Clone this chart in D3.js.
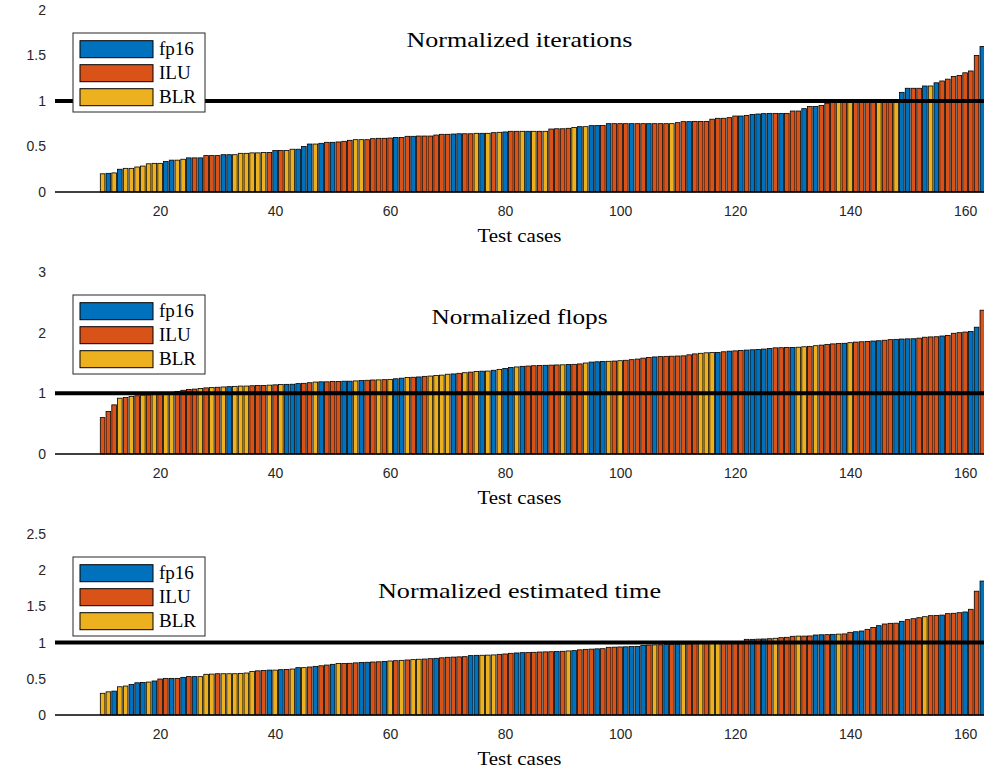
<!DOCTYPE html>
<html>
<head>
<meta charset="utf-8">
<script src="https://cdn.jsdelivr.net/npm/d3@7"></script>
<style>
body { margin: 0; background: #fff; }
svg { display: block; }
.tick text { font-family: "Liberation Sans", Arial, sans-serif; font-size: 14px; fill: #262626; }
.serif { font-family: "Liberation Serif", "DejaVu Serif", serif; fill: #000; }
</style>
</head>
<body>
<svg id="chart" width="984" height="773"></svg>
<script>
// test cases 10..163 (cases 1..9 have no value)
var firstCase = 10;
var xTicks = [20, 40, 60, 80, 100, 120, 140, 160];
var methods = ["fp16", "ILU", "BLR"];
var methodColors = ["#0072BD", "#D95319", "#EDB120"];

// normalized iterations
var iterValues = [0.20,0.205,0.21,0.25,0.26,0.26,0.275,0.285,0.31,0.315,0.315,0.335,0.35,0.35,0.36,0.375,0.375,0.375,0.40,0.40,0.40,0.41,0.41,0.41,0.425,0.425,0.43,0.43,0.435,0.435,0.455,0.455,0.455,0.47,0.47,0.50,0.527,0.527,
  0.535,0.546,0.546,0.55,0.557,0.568,0.575,0.575,0.575,0.586,0.59,0.59,0.593,0.60,0.60,0.612,0.612,0.615,0.615,0.615,0.626,0.634,0.634,0.637,0.64,0.64,0.64,0.645,0.645,0.645,0.652,0.656,0.66,0.667,0.667,0.667,0.667,0.667,0.667,
  0.667,0.692,0.695,0.695,0.70,0.71,0.718,0.718,0.729,0.73,0.73,0.751,0.751,0.751,0.751,0.751,0.751,0.751,0.751,0.751,0.751,0.751,0.751,0.762,0.773,0.773,0.776,0.776,0.776,0.80,0.81,0.81,0.817,0.835,0.835,0.842,0.853,0.857,0.861,
  0.864,0.864,0.864,0.864,0.89,0.89,0.916,0.94,0.94,0.952,0.975,1,1,1,1,1,1,1,1,1,1,1,1,1.095,1.14,1.14,1.14,1.165,1.165,1.20,1.22,1.24,1.27,1.28,1.31,1.33,1.50,1.60];
var iterMethod = ("YBYBYYYYYYYBBYYBRBRRRBBYYYYYYRBRYYBBBY" +
  "BRBRRRYYRRRRRBRRBRRRRRRBBRRYBYRYBRRYBYR" +
  "YRRRRYBYBBRBRRRBRRBRRRYRRBRRRRRRRRBRBBB" +
  "BRBRRRBRBRRRYRYRRRRYRRYBBRRBYBRRRRRRRB").split("");

// normalized flops
var flopValues = [0.60,0.70,0.81,0.92,0.93,0.95,0.96,0.97,0.975,0.98,0.99,1.0,1.01,1.03,1.05,1.065,1.07,1.08,1.09,1.095,1.10,1.105,1.11,1.115,1.12,1.12,1.125,1.13,1.13,1.135,1.14,1.145,1.148,1.15,1.16,1.165,1.175,1.186,
  1.19,1.19,1.195,1.195,1.2,1.2,1.205,1.21,1.215,1.22,1.222,1.225,1.23,1.24,1.25,1.26,1.265,1.27,1.28,1.285,1.295,1.30,1.315,1.32,1.33,1.34,1.35,1.36,1.365,1.367,1.38,1.395,1.41,1.425,1.435,1.445,1.45,1.455,1.46,
  1.462,1.465,1.468,1.47,1.475,1.478,1.485,1.50,1.515,1.52,1.525,1.528,1.532,1.538,1.545,1.555,1.565,1.58,1.59,1.60,1.605,1.61,1.612,1.615,1.618,1.635,1.65,1.66,1.668,1.672,1.675,1.685,1.695,1.70,1.708,1.713,1.718,1.724,1.73,
  1.74,1.75,1.752,1.755,1.757,1.76,1.768,1.774,1.785,1.795,1.807,1.815,1.82,1.825,1.835,1.845,1.85,1.856,1.862,1.867,1.875,1.885,1.89,1.895,1.898,1.90,1.91,1.925,1.93,1.933,1.945,1.955,1.99,2.0,2.01,2.02,2.09,2.37];
var flopMethod = ("RRRYRYRYRYRYYRRRRYRYRYBYYYRRRYRYBBBRRY" +
  "BRRRBBYBRRYRYBBYRBRYYYYBRYRYBYBYBBYBRRR" +
  "BRRYBRRYBBBYRYRRRRRBRRRRRRRYYYBRBRRBBBB" +
  "BRRRBYYRYRRRRBYRRRBBRRBBBBRRRRBRRRRBBR").split("");

// normalized estimated time
var timeValues = [0.30,0.32,0.33,0.39,0.40,0.42,0.445,0.45,0.455,0.47,0.497,0.506,0.506,0.506,0.52,0.53,0.53,0.53,0.562,0.565,0.57,0.57,0.57,0.57,0.575,0.58,0.60,0.61,0.615,0.62,0.62,0.626,0.63,0.635,0.654,0.654,0.663,0.672,
  0.68,0.69,0.70,0.71,0.712,0.714,0.72,0.725,0.728,0.732,0.735,0.74,0.746,0.75,0.755,0.76,0.765,0.77,0.773,0.778,0.783,0.79,0.797,0.80,0.803,0.806,0.82,0.824,0.825,0.827,0.83,0.838,0.843,0.852,0.857,0.861,0.863,0.866,0.87,
  0.872,0.874,0.876,0.88,0.885,0.889,0.90,0.907,0.91,0.914,0.916,0.935,0.937,0.94,0.942,0.945,0.948,0.962,0.965,0.968,0.97,0.972,0.975,0.977,0.98,0.982,0.985,0.987,0.99,0.992,0.995,0.997,1.0,1.0,1.005,1.045,1.045,1.048,1.05,
  1.054,1.06,1.068,1.073,1.087,1.09,1.09,1.092,1.105,1.108,1.11,1.114,1.117,1.12,1.142,1.15,1.16,1.183,1.21,1.234,1.257,1.266,1.268,1.294,1.317,1.33,1.344,1.358,1.372,1.375,1.38,1.40,1.405,1.413,1.423,1.46,1.71,1.85];
var timeMethod = ("YYBYYBBBYBRRBRBRBYYYRYYYYYYRRBYBRYBYRB" +
  "RRBYRRRBBRRBYRYRYYRRBRRRRRBBYYYRRRBBRRR" +
  "RRBRYBRRRBRRRRBBBBRYRBRBYRRYRYYRRRRRBRB" +
  "RYRRRYRRBBRBYRRBBRRBRRRBRRRYRRBRRRBRRB").split("");

var panels = [
  {top: 10,  bottom: 192, ymax: 2,   yTicks: [0, 0.5, 1, 1.5, 2], title: "Normalized iterations", titleW: 226, titleAt: 1.67, values: iterValues, method: iterMethod},
  {top: 272, bottom: 454, ymax: 3,   yTicks: [0, 1, 2, 3], title: "Normalized flops", titleW: 176, titleAt: 2.26, values: flopValues, method: flopMethod},
  {top: 534, bottom: 715, ymax: 2.5, yTicks: [0, 0.5, 1, 1.5, 2, 2.5], title: "Normalized estimated time", titleW: 283, titleAt: 1.71, values: timeValues, method: timeMethod}
];

var svg = d3.select("#chart");
var left = 55, right = 984;
var x = d3.scaleLinear().domain([1.72, 163.29]).range([left, right]);
var barW = 4.6;
var colorOf = {B: methodColors[0], R: methodColors[1], Y: methodColors[2]};

panels.forEach(function(p) {
  var y = d3.scaleLinear().domain([0, p.ymax]).range([p.bottom, p.top]);
  var g = svg.append("g");

  // bars
  g.selectAll("rect.bar")
    .data(p.values)
    .enter().append("rect")
      .attr("class", "bar")
      .attr("x", function(d, i) { return x(firstCase + i) - barW / 2; })
      .attr("y", function(d) { return y(d); })
      .attr("width", barW)
      .attr("height", function(d) { return y(0) - y(d); })
      .style("fill", function(d, i) { return colorOf[p.method[i]]; })
      .style("stroke", "#000")
      .style("stroke-width", 0.8);

  // baseline
  g.append("line")
    .attr("x1", left).attr("x2", right)
    .attr("y1", y(0)).attr("y2", y(0))
    .style("stroke", "#000").style("stroke-width", 1.5);

  // reference line at 1
  g.append("line")
    .attr("x1", left).attr("x2", right)
    .attr("y1", y(1)).attr("y2", y(1))
    .style("stroke", "#000").style("stroke-width", 4);

  // axes
  var yAxis = g.append("g")
    .attr("transform", "translate(" + left + ",0)")
    .call(d3.axisLeft(y).tickValues(p.yTicks).tickSize(0).tickPadding(9).tickFormat(d3.format("")));
  yAxis.select(".domain").remove();

  var xAxis = g.append("g")
    .attr("transform", "translate(0," + p.bottom + ")")
    .call(d3.axisBottom(x).tickValues(xTicks).tickSize(0).tickPadding(14));
  xAxis.select(".domain").remove();

  // x label
  g.append("text")
    .attr("class", "serif")
    .attr("x", (left + right) / 2)
    .attr("y", p.bottom + 50)
    .attr("text-anchor", "middle")
    .attr("textLength", 84)
    .attr("lengthAdjust", "spacingAndGlyphs")
    .style("font-size", "18px")
    .text("Test cases");

  // title, placed in data units like the original
  g.append("text")
    .attr("class", "serif")
    .attr("x", (left + right) / 2)
    .attr("y", y(p.titleAt) + 7)
    .attr("text-anchor", "middle")
    .attr("textLength", p.titleW)
    .attr("lengthAdjust", "spacingAndGlyphs")
    .style("font-size", "21px")
    .text(p.title);

  // legend
  var lg = g.append("g").attr("transform", "translate(73," + (p.top + 23) + ")");
  lg.append("rect")
    .attr("width", 132).attr("height", 79)
    .style("fill", "#fff").style("stroke", "#262626").style("stroke-width", 1);
  var item = lg.selectAll(".item")
    .data(methods)
    .enter().append("g")
      .attr("class", "item")
      .attr("transform", function(d, i) { return "translate(7," + (7.7 + i * 24) + ")"; });
  item.append("rect")
    .attr("width", 73).attr("height", 17)
    .style("fill", function(d, i) { return methodColors[i]; })
    .style("stroke", "#000").style("stroke-width", 1);
  item.append("text")
    .attr("class", "serif")
    .attr("x", 79)
    .attr("y", 14.5)
    .style("font-size", "19px")
    .text(function(d) { return d; });
});
</script>
</body>
</html>
